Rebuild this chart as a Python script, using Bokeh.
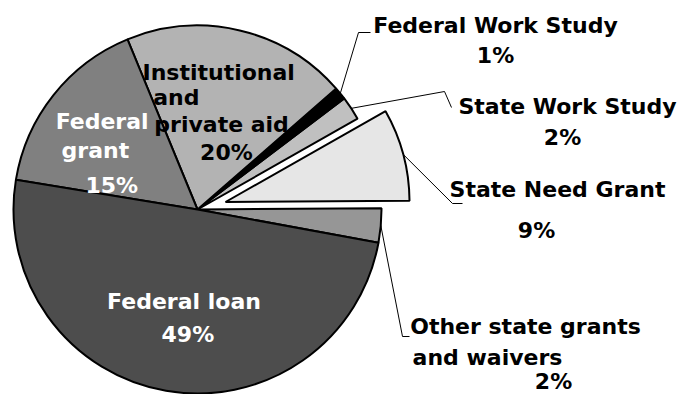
import numpy as np
from bokeh.plotting import figure
from bokeh.models import Range1d
from bokeh.embed import file_html
from bokeh.resources import INLINE
from bokeh.core.properties import value

# ---- data (anticlockwise from the "Other" slice) ----
categories = ["Other state grants and waivers", "State Need Grant", "State Work Study",
              "Federal Work Study", "Institutional and private aid", "Federal grant", "Federal loan"]
shares = [3.0, 8.1, 2.1, 1.1, 19.8, 16.2, 49.7]
pct_labels = ["2%", "9%", "2%", "1%", "20%", "15%", "49%"]

# ---- style / layout (coordinates are window pixels, y downwards) ----
colors = ["#969696", "#e6e6e6", "#c0c0c0", "#000000", "#b3b3b3", "#808080", "#4d4d4d"]
start_deg = -10.4
CX, CY, R = 205, 217, 184          # pie centre / radius
K = R / 191.0                      # scale of in-pie layout
explode = [0, 29, 0, 0, 0, 0, 0]

W, H = 680, 394
OFF = 8                            # body margin
p = figure(width=W, height=H, output_backend="svg", toolbar_location=None,
           x_range=Range1d(OFF, OFF + W), y_range=Range1d(-(OFF + H), -OFF),
           x_axis_type=None, y_axis_type=None,
           min_border=0, min_border_left=0, min_border_right=0,
           min_border_top=0, min_border_bottom=0)
p.grid.visible = False
p.outline_line_color = None
p.background_fill_color = "white"
p.border_fill_color = "white"

vals = np.array(shares, dtype=float)
ang = np.cumsum(np.concatenate([[0], vals / vals.sum() * 360.0])) + start_deg
starts = np.radians(ang[:-1])
ends = np.radians(ang[1:])
mids = (starts + ends) / 2
xs = CX + np.array(explode) * np.cos(mids)
ys = -CY + np.array(explode) * np.sin(mids)

p.wedge(x=xs, y=ys, radius=R, start_angle=starts, end_angle=ends,
        fill_color=colors, line_color="black", line_width=2)

# leader lines: start at slice rim (mid angle), then elbows near labels
def rim(i, r=R):
    return xs[i] + r * np.cos(mids[i]), ys[i] + r * np.sin(mids[i])

elbows = {
    3: [(366, 40), (378, 40)],
    2: [(452, 99), (459, 115)],
    1: [(460, 211), (470, 211)],
    0: [(410, 344), (417, 344)],
}
lx, ly = [], []
for i, pts in elbows.items():
    sx, sy = rim(i)
    lx.append([sx] + [a for a, b in pts])
    ly.append([sy] + [-b for a, b in pts])
p.multi_line(xs=lx, ys=ly, line_color="black", line_width=1)

# ---- labels inside the pie (relative to reference pie at 206,225 r191) ----
inner = [
    (228, 83, "Institutional", "black"),
    (184, 109, "and", "black"),
    (231, 137, "private aid", "black"),
    (236, 166, pct_labels[4], "black"),
    (107, 134, "Federal", "white"),
    (100, 164, "grant", "white"),
    (117, 200, pct_labels[5], "white"),
    (192, 321, "Federal loan", "white"),
    (196, 355, pct_labels[6], "white"),
]
inner = [(CX + (x - 206) * K, CY + (y - 225) * K, t, c) for x, y, t, c in inner]

outer = [
    (503, 33, "Federal Work Study", "black"),
    (503, 63, pct_labels[3], "black"),
    (575, 114, "State Work Study", "black"),
    (570, 145, pct_labels[2], "black"),
    (565, 197, "State Need Grant", "black"),
    (544, 238, pct_labels[1], "black"),
    (533, 334, "Other state grants", "black"),
    (495, 365, "and waivers", "black"),
    (561, 389, pct_labels[0], "black"),
]
labels = inner + outer
p.text(x=[l[0] for l in labels], y=[-l[1] for l in labels], text=[l[2] for l in labels],
       text_color=[l[3] for l in labels], text_font=value("DejaVu Sans"),
       text_font_style="bold", text_font_size="22px",
       text_align="center", text_baseline="alphabetic")

open("out.html", "w").write(file_html(p, INLINE))
